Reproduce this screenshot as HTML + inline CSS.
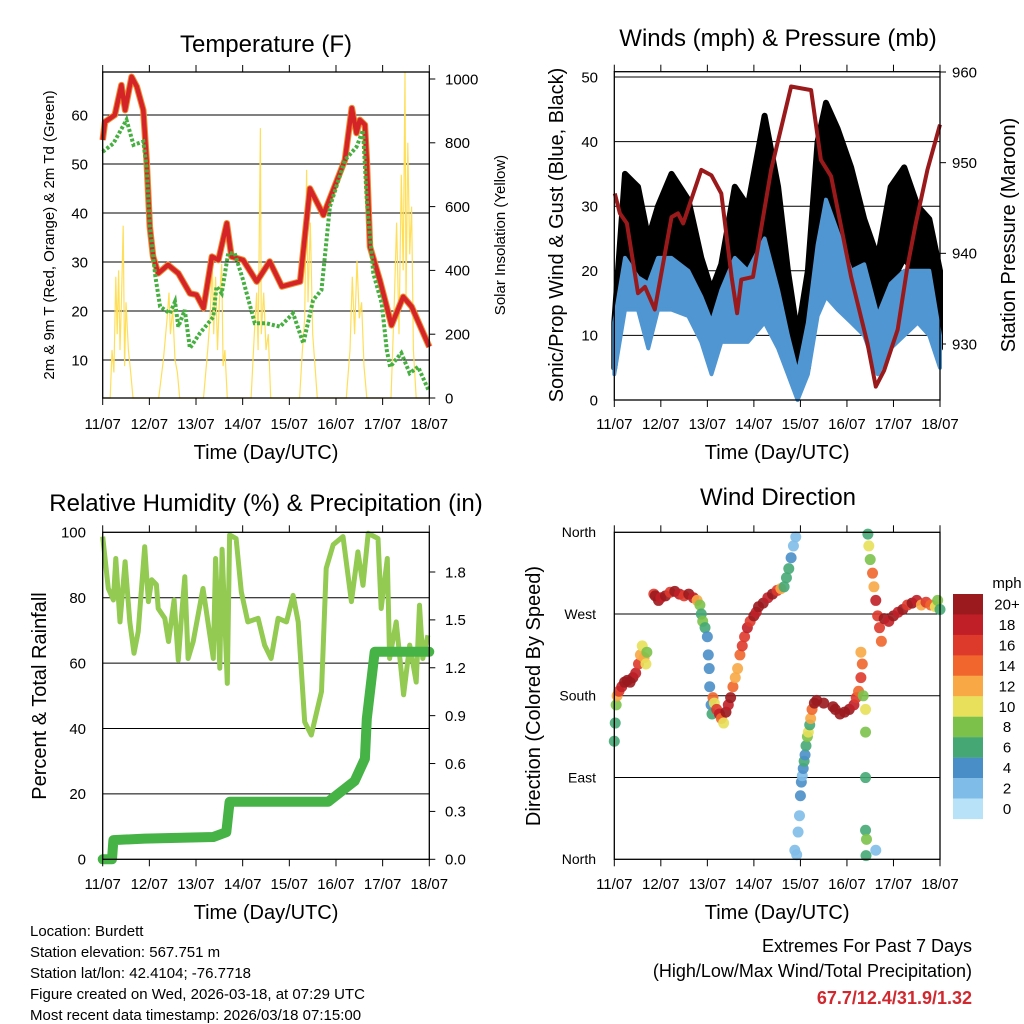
<!DOCTYPE html>
<html><head><meta charset="utf-8">
<style>
html,body{margin:0;padding:0;background:#fff;}
svg{display:block;font-family:"Liberation Sans",Arial,sans-serif;}
</style></head>
<body>
<svg id="root" width="1024" height="1024" viewBox="0 0 1024 1024" xmlns="http://www.w3.org/2000/svg">
<rect width="1024" height="1024" fill="#fff"/>
<g id="p1"></g>
<g id="p2"></g>
<g id="p3"></g>
<g id="p4"></g>
<g font-size="15" fill="#000">
<text x="30" y="936">Location: Burdett</text>
<text x="30" y="957">Station elevation: 567.751 m</text>
<text x="30" y="978">Station lat/lon: 42.4104; -76.7718</text>
<text x="30" y="999">Figure created on Wed, 2026-03-18, at 07:29 UTC</text>
<text x="30" y="1020">Most recent data timestamp: 2026/03/18 07:15:00</text>
</g>
<g font-size="18" text-anchor="end">
<text x="972" y="952">Extremes For Past 7 Days</text>
<text x="972" y="977">(High/Low/Max Wind/Total Precipitation)</text>
<text x="972" y="1004" fill="#d0282e" font-weight="bold">67.7/12.4/31.9/1.32</text>
</g>
</svg>
<script>
// ---------- data ----------
const dayLabels = ["11/07","12/07","13/07","14/07","15/07","16/07","17/07","18/07"];
// temperature (F)
const tempDays = [0,0.05,0.26,0.4,0.48,0.62,0.73,0.87,0.94,1.01,1.08,1.19,1.4,1.62,1.87,2.01,2.16,2.34,2.48,2.66,2.76,3.01,3.3,3.58,3.84,4.23,4.34,4.44,4.73,5.19,5.34,5.44,5.51,5.62,5.66,5.73,5.94,6.19,6.44,6.62,7.0];
const tempVals = [54.9,58.6,60,66.1,61,67.8,65.8,61,50.8,37.2,31.1,27.7,29.4,27.7,23.6,23.3,20.6,31.1,30.4,37.9,31.1,30.4,26,30.1,25,26,35.9,45,39.6,50.8,61.4,56.3,59,58,50.8,33.1,26.3,17.1,22.9,20.9,12.7];
const dewDays = [0,0.23,0.51,0.66,0.87,0.94,1.01,1.13,1.23,1.44,1.55,1.62,1.76,1.87,2.08,2.37,2.44,2.55,2.69,2.83,3.01,3.26,3.51,3.8,4.08,4.3,4.51,4.69,4.87,5.19,5.44,5.58,5.66,5.8,5.98,6.09,6.16,6.4,6.58,6.76,6.98];
const dewVals = [52.5,54.2,59,53.9,54.6,49.4,37.2,27,20.9,19.5,21.9,16.8,20.2,12.4,15.4,18.8,25,23.6,31.8,31.8,26.3,17.5,17.5,16.8,19.5,13.4,22.2,24.3,41.3,50.8,53.5,56.9,42.6,27.7,21.6,12,8.6,11.4,7.3,8.6,3.9];
const solarDays = [0,0.16,0.2,0.24,0.28,0.31,0.34,0.37,0.4,0.44,0.47,0.5,0.55,0.6,0.65,1.2,1.3,1.38,1.42,1.45,1.5,1.55,1.6,1.65,2.16,2.25,2.3,2.35,2.38,2.42,2.46,2.5,2.55,2.58,2.62,2.67,3.18,3.25,3.3,3.33,3.38,3.4,3.45,3.5,3.55,3.6,4.22,4.28,4.33,4.37,4.4,4.45,4.5,4.55,4.6,5.22,5.3,5.35,5.4,5.45,5.5,5.55,5.6,5.66,6.18,6.25,6.3,6.35,6.4,6.44,6.48,6.5,6.54,6.58,6.62,6.66,6.72,7.0];
const solarVals = [0,0,150,80,380,200,400,150,300,540,100,300,150,80,0,0,120,250,330,200,280,120,80,0,0,150,250,420,200,380,150,300,420,100,150,0,0,200,330,150,846,200,330,150,200,0,0,150,250,715,300,550,200,100,0,0,150,380,200,430,250,300,100,0,0,300,550,200,700,400,1020,300,800,450,600,150,0,0];
const tempTicks = [10,20,30,40,50,60];
const solarTicks = [0,200,400,600,800,1000];
// winds
const windDays = [0,0.23,0.51,0.73,0.94,1.23,1.59,1.87,2.09,2.3,2.59,2.87,3.23,3.52,3.73,3.94,4.16,4.37,4.55,4.8,5.09,5.37,5.66,5.94,6.23,6.52,6.77,7.0];
const windLo = [4,14,14,8,14,14,13,9,4,9,9,9,12,8,4,0,4,13,16,14,12,10,4,8,10,12,10,5];
const windHi = [12,22,19,18,22,22,20,16,12,17,22,20,25,17,10,4,12,24,31,26,20,21,13,18,20,20,20,10];
const gustLo = [5,18,17,12,17,20,18,10,6,12,18,18,22,13,6,1,5,18,24,22,20,18,8,18,22,19,14,8];
const gustHi = [12,35,33,25,30,35,31,22,17,21,33,30,44,33,20,10,20,40,46,42,36,28,22,33,36,30,28,20];
const presDays = [0.01,0.12,0.27,0.51,0.66,0.87,1.23,1.37,1.48,1.87,2.09,2.3,2.52,2.64,2.73,2.98,3.37,3.8,4.23,4.44,4.66,5.09,5.44,5.62,5.8,6.09,6.3,6.48,6.73,7.0];
const presVals = [946.6,944.4,943.3,935.6,936.3,933.8,944.0,944.4,943.3,949.2,948.6,946.6,937.4,933.4,937.1,937.4,949.2,958.4,958.0,950.3,948.5,937.4,930.1,925.3,927.1,931.6,938.5,943.3,949.2,954.2];
const windTicks = [0,10,20,30,40,50];
const presTicks = [930,940,950,960];
// humidity / precip
const rhDays = [0,0.12,0.23,0.28,0.37,0.48,0.58,0.67,0.76,0.9,0.98,1.05,1.15,1.19,1.33,1.41,1.53,1.62,1.69,1.76,1.83,1.94,2.15,2.37,2.42,2.51,2.56,2.67,2.72,2.86,2.97,3.11,3.33,3.47,3.61,3.76,3.94,4.08,4.19,4.33,4.47,4.69,4.79,4.94,5.15,5.33,5.47,5.58,5.69,5.9,5.97,6.1,6.15,6.29,6.45,6.58,6.72,6.79,6.86,6.97];
const rhVals = [98.7,82.8,79.3,92,72.6,91,72.6,63,69.6,95.6,78.8,85.5,84,76.7,73.7,66.6,79.3,60.9,74.7,86.4,61.4,66.6,82.8,61.4,92,58.4,94.8,53.8,99.2,98.1,81.8,72.6,73.7,65.5,61.4,73.7,72.6,80.7,72.6,42,38,51.3,89,96.2,98.7,78.8,94,83.8,99.7,98.1,76.7,92,61.4,72.6,50.3,65.5,54.2,77.7,61.4,68.5];
const rainDays = [0,0.2,0.23,0.9,2.37,2.65,2.72,4.83,5.4,5.62,5.66,5.83,7.0];
const rainVals = [0,0,0.12,0.13,0.14,0.17,0.36,0.36,0.49,0.63,0.88,1.3,1.3];
const rhTicks = [0,20,40,60,80,100];
const rainTicks = ["0.0","0.3","0.6","0.9","1.2","1.5","1.8"];
// wind direction
const dirDays = [0,0.02,0.04,0.06,0.1,0.16,0.22,0.28,0.34,0.4,0.46,0.52,0.56,0.6,0.64,0.68,0.7,0.85,0.88,0.95,1.0,1.1,1.2,1.3,1.4,1.5,1.6,1.7,1.78,1.84,1.87,1.9,1.95,2.0,2.02,2.04,2.05,2.08,2.1,2.12,2.15,2.2,2.26,2.3,2.35,2.4,2.45,2.5,2.55,2.6,2.65,2.7,2.75,2.8,2.86,2.92,3.0,3.05,3.1,3.2,3.3,3.4,3.5,3.58,3.65,3.7,3.75,3.8,3.85,3.9,3.88,3.92,3.95,3.98,4.0,4.02,4.04,4.06,4.08,4.1,4.12,4.15,4.17,4.2,4.22,4.25,4.3,4.35,4.5,4.7,4.75,4.85,4.95,5.05,5.15,5.2,5.25,5.3,5.33,5.3,5.35,5.4,5.4,5.4,5.4,5.42,5.41,5.62,5.45,5.47,5.5,5.55,5.58,5.62,5.66,5.7,5.74,5.8,5.9,6.0,6.1,6.2,6.3,6.4,6.5,6.6,6.7,6.8,6.9,6.95,7.0];
const dirVals = [130,150,170,180,185,190,195,197,195,200,205,215,225,235,222,215,228,292,290,285,288,290,294,295,292,290,292,288,285,280,270,262,255,245,225,210,190,170,160,178,172,165,160,155,150,162,170,178,190,200,210,225,235,245,255,262,268,272,278,282,288,292,296,298,300,310,320,332,345,355,10,5,30,48,70,85,92,100,108,115,125,135,140,148,155,165,172,175,172,168,165,160,162,165,170,178,185,200,215,228,180,165,140,90,32,22,4,10,358,345,330,315,300,285,268,255,240,265,262,268,272,275,280,282,285,280,283,280,278,285,275];
const dirSpd = [6,6,8,12,16,18,20,20,20,20,18,16,12,10,12,10,8,16,20,20,18,20,16,20,18,16,20,18,12,8,6,8,6,4,4,4,4,4,6,14,10,16,18,14,10,20,18,20,14,12,12,14,16,16,18,16,20,18,20,20,18,20,16,12,6,6,6,4,2,2,2,2,2,2,4,4,2,4,6,4,6,8,10,6,12,14,20,20,20,20,20,20,20,20,18,16,14,16,14,12,8,10,8,6,6,8,6,2,6,10,8,14,12,18,16,16,14,20,18,20,18,20,16,20,18,12,16,14,10,8,6];
const spdLevels = ["20+","18","16","14","12","10","8","6","4","2","0"];
const spdColors = ["#9a1a1e","#c01f27","#de3a2c","#f0662c","#f8a945","#e8e05a","#7cc24a","#45a874","#4a8ec8","#80bce8","#b8e2f8"];
const dirNames = ["North","West","South","East","North"];

// ---------- helpers ----------
const NS = "http://www.w3.org/2000/svg";
function mk(parent, tag, attrs, text){
  const el = document.createElementNS(NS, tag);
  for (const k in attrs) el.setAttribute(k, attrs[k]);
  if (text !== undefined) el.textContent = text;
  parent.appendChild(el);
  return el;
}
function linScale(d0, d1, r0, r1){ return v => r0 + (v - d0) * (r1 - r0) / (d1 - d0); }
function pts(xs, ys, fx, fy){ return xs.map((d,i)=>fx(d).toFixed(1)+","+fy(ys[i]).toFixed(1)).join(" "); }

function frame(g, L, R, T, B, fx, timeY, labelY){
  dayLabels.forEach((lab, i) => {
    const x = fx(i);
    const t1 = mk(g, "line", {x1:x, x2:x, y1:B, y2:B+7, stroke:"#000", "stroke-width":1});
    
    
    const t2 = mk(g, "line", {x1:x, x2:x, y1:T, y2:T-7, stroke:"#000", "stroke-width":1});
    
    
    const tl = mk(g, "text", {x:x, y:labelY, "font-size":15, "text-anchor":"middle"}, lab);
    
    
  });
  const xt = mk(g, "text", {x:(L+R)/2, y:timeY, "font-size":20, "text-anchor":"middle"}, "Time (Day/UTC)");
  
  
}
function border(g, L, R, T, B){
  const r = mk(g, "rect", {x:L, y:T, width:R-L, height:B-T, fill:"none", stroke:"#000", "stroke-width":1.3});
  
  
}
function hgrid(g, L, R, y){
  const l = mk(g, "line", {x1:L, x2:R, y1:y, y2:y, stroke:"#000", "stroke-width":1});
  
  
}
function yLabel(g, x, y, txt, size, anchor){
  const t = mk(g, "text", {x:x, y:y+size*0.35, "font-size":size, "text-anchor":anchor}, txt);
  
  
}
function vTitle(g, x, y, txt, size, name){
  const t = mk(g, "text", {x:x, y:y, "font-size":size, "text-anchor":"middle", transform:"rotate(-90 "+x+" "+y+")"}, txt);
  
  
}
function title(g, x, y, txt, name){
  const t = mk(g, "text", {x:x, y:y, "font-size":24, "text-anchor":"middle"}, txt);
  
  
}

// ---------- panel 1: temperature ----------
(function(){
  const g = document.getElementById("p1");
  const L=102.7, R=429.3, T=72, B=398;
  const fx = linScale(0, 7, L, R);
  const fy = linScale(0, 60, 409, 115);
  const fs = linScale(0, 1000, 398, 79);
  title(g, 266, 52, "Temperature (F)", "chart-title");
  tempTicks.forEach(v => { hgrid(g, L, R, fy(v)); yLabel(g, 88, fy(v), String(v), 15, "end"); });
  solarTicks.forEach(v => {
    const tk = mk(g, "line", {x1:R, x2:R+6, y1:fs(v), y2:fs(v), stroke:"#000"});
    
    
    yLabel(g, 445, fs(v), String(v), 15, "start");
  });
  const sol = mk(g, "polyline", {points:pts(solarDays, solarVals, fx, fs), fill:"none", stroke:"#ffdf5a", "stroke-width":1.2});
  
  
  const o = mk(g, "polyline", {points:pts(tempDays, tempVals, fx, fy), fill:"none", stroke:"#f08a30", "stroke-width":6.5, "stroke-linejoin":"round"});
  
  
  const r = mk(g, "polyline", {points:pts(tempDays, tempVals, fx, fy), fill:"none", stroke:"#d42428", "stroke-width":4.5, "stroke-linejoin":"round"});
  
  
  const d = mk(g, "polyline", {points:pts(dewDays, dewVals, fx, fy), fill:"none", stroke:"#45b040", "stroke-width":4, "stroke-dasharray":"3 2"});
  
  
  border(g, L, R, T, B);
  frame(g, L, R, T, B, fx, 459, 429);
  vTitle(g, 54, 235, "2m & 9m T (Red, Orange) & 2m Td (Green)", 15, "y-axis-title");
  vTitle(g, 505, 235, "Solar Insolation (Yellow)", 15, "y2-axis-title");
})();

// ---------- panel 2: winds ----------
(function(){
  const g = document.getElementById("p2");
  const L=614.3, R=940, T=71.7, B=400;
  const fx = linScale(0, 7, L, R);
  const fy = linScale(0, 50, 400, 77);
  const fp = linScale(930, 960, 344, 72);
  title(g, 778, 46, "Winds (mph) & Pressure (mb)", "chart-title");
  windTicks.forEach(v => { if (v>0) hgrid(g, L, R, fy(v)); yLabel(g, 598, fy(v), String(v), 15, "end"); });
  presTicks.forEach(v => {
    const tk = mk(g, "line", {x1:R, x2:R+6, y1:fp(v), y2:fp(v), stroke:"#000"});
    
    
    yLabel(g, 952, fp(v), String(v), 15, "start");
  });
  const top = windDays.map((d,i)=>fx(d).toFixed(1)+","+fy(gustHi[i]).toFixed(1));
  const bot = windDays.map((d,i)=>fx(d).toFixed(1)+","+fy(gustLo[i]).toFixed(1)).reverse();
  const gb = mk(g, "polygon", {points:top.concat(bot).join(" "), fill:"#000", stroke:"#000", "stroke-width":6, "stroke-linejoin":"round"});
  
  
  const t2 = windDays.map((d,i)=>fx(d).toFixed(1)+","+fy(windHi[i]).toFixed(1));
  const b2 = windDays.map((d,i)=>fx(d).toFixed(1)+","+fy(windLo[i]).toFixed(1)).reverse();
  const wb = mk(g, "polygon", {points:t2.concat(b2).join(" "), fill:"#4f96d2", stroke:"#4f96d2", "stroke-width":4, "stroke-linejoin":"round"});
  
  
  const p = mk(g, "polyline", {points:pts(presDays, presVals, fx, fp), fill:"none", stroke:"#9a1a1c", "stroke-width":4, "stroke-linejoin":"round"});
  
  
  border(g, L, R, T, B);
  frame(g, L, R, T, B, fx, 459, 429);
  vTitle(g, 563, 235, "Sonic/Prop Wind & Gust (Blue, Black)", 20, "y-axis-title");
  vTitle(g, 1015, 235, "Station Pressure (Maroon)", 20, "y2-axis-title");
})();

// ---------- panel 3: humidity ----------
(function(){
  const g = document.getElementById("p3");
  const L=102.7, R=429.3, T=532.3, B=859.3;
  const fx = linScale(0, 7, L, R);
  const fy = linScale(0, 100, 859.3, 532.3);
  const fr = linScale(0, 1.8, 859.3, 572);
  title(g, 266, 511, "Relative Humidity (%) & Precipitation (in)", "chart-title");
  rhTicks.forEach(v => { if (v>0 && v<100) hgrid(g, L, R, fy(v)); yLabel(g, 86, fy(v), String(v), 15, "end"); });
  rainTicks.forEach(v => {
    const tk = mk(g, "line", {x1:R, x2:R+6, y1:fr(+v), y2:fr(+v), stroke:"#000"});
    
    
    yLabel(g, 445, fr(+v), v, 15, "start");
  });
  const rh = mk(g, "polyline", {points:pts(rhDays, rhVals, fx, fy), fill:"none", stroke:"#92ca52", "stroke-width":5, "stroke-linejoin":"round"});
  
  
  const rn = mk(g, "polyline", {points:pts(rainDays, rainVals, fx, fr), fill:"none", stroke:"#46b346", "stroke-width":10, "stroke-linejoin":"round", "stroke-linecap":"round"});
  
  
  border(g, L, R, T, B);
  frame(g, L, R, T, B, fx, 919, 889);
  vTitle(g, 46, 696, "Percent & Total Rainfall", 20, "y-axis-title");
})();

// ---------- panel 4: wind direction ----------
(function(){
  const g = document.getElementById("p4");
  const L=614.3, R=940, T=532.3, B=859.3;
  const fx = linScale(0, 7, L, R);
  const fy = linScale(0, 360, 859.3, 532.3);
  title(g, 778, 505, "Wind Direction", "chart-title");
  dirNames.forEach((n, i) => {
    const y = fy(360 - i*90);
    if (i>0 && i<4) hgrid(g, L, R, y);
    yLabel(g, 596, y, n, 14, "end");
  });
  function colorFor(s){ const idx = Math.min(10, Math.max(0, Math.floor(s/2))); return spdColors[10-idx]; }
  dirDays.forEach((d, i) => {
    const c = mk(g, "circle", {cx:fx(d), cy:fy(dirVals[i]), r:5.5, fill:colorFor(dirSpd[i]), "fill-opacity":0.9});
    
    
  });
  border(g, L, R, T, B);
  frame(g, L, R, T, B, fx, 919, 889);
  vTitle(g, 540, 696, "Direction (Colored By Speed)", 20, "y-axis-title");
  const cb = mk(g, "g", {});
  
  
  const ut = mk(cb, "text", {x:1007, y:588, "font-size":15, "text-anchor":"middle"}, "mph");
  
  
  spdLevels.forEach((lab, i) => {
    const y = 594 + i*20.45;
    const r = mk(cb, "rect", {x:953, y:y, width:30, height:20.6, fill:spdColors[i]});
    
    
    const t = mk(cb, "text", {x:1007, y:y+15.5, "font-size":15, "text-anchor":"middle"}, lab);
    
    
  });
})();
</script>
</body></html>
